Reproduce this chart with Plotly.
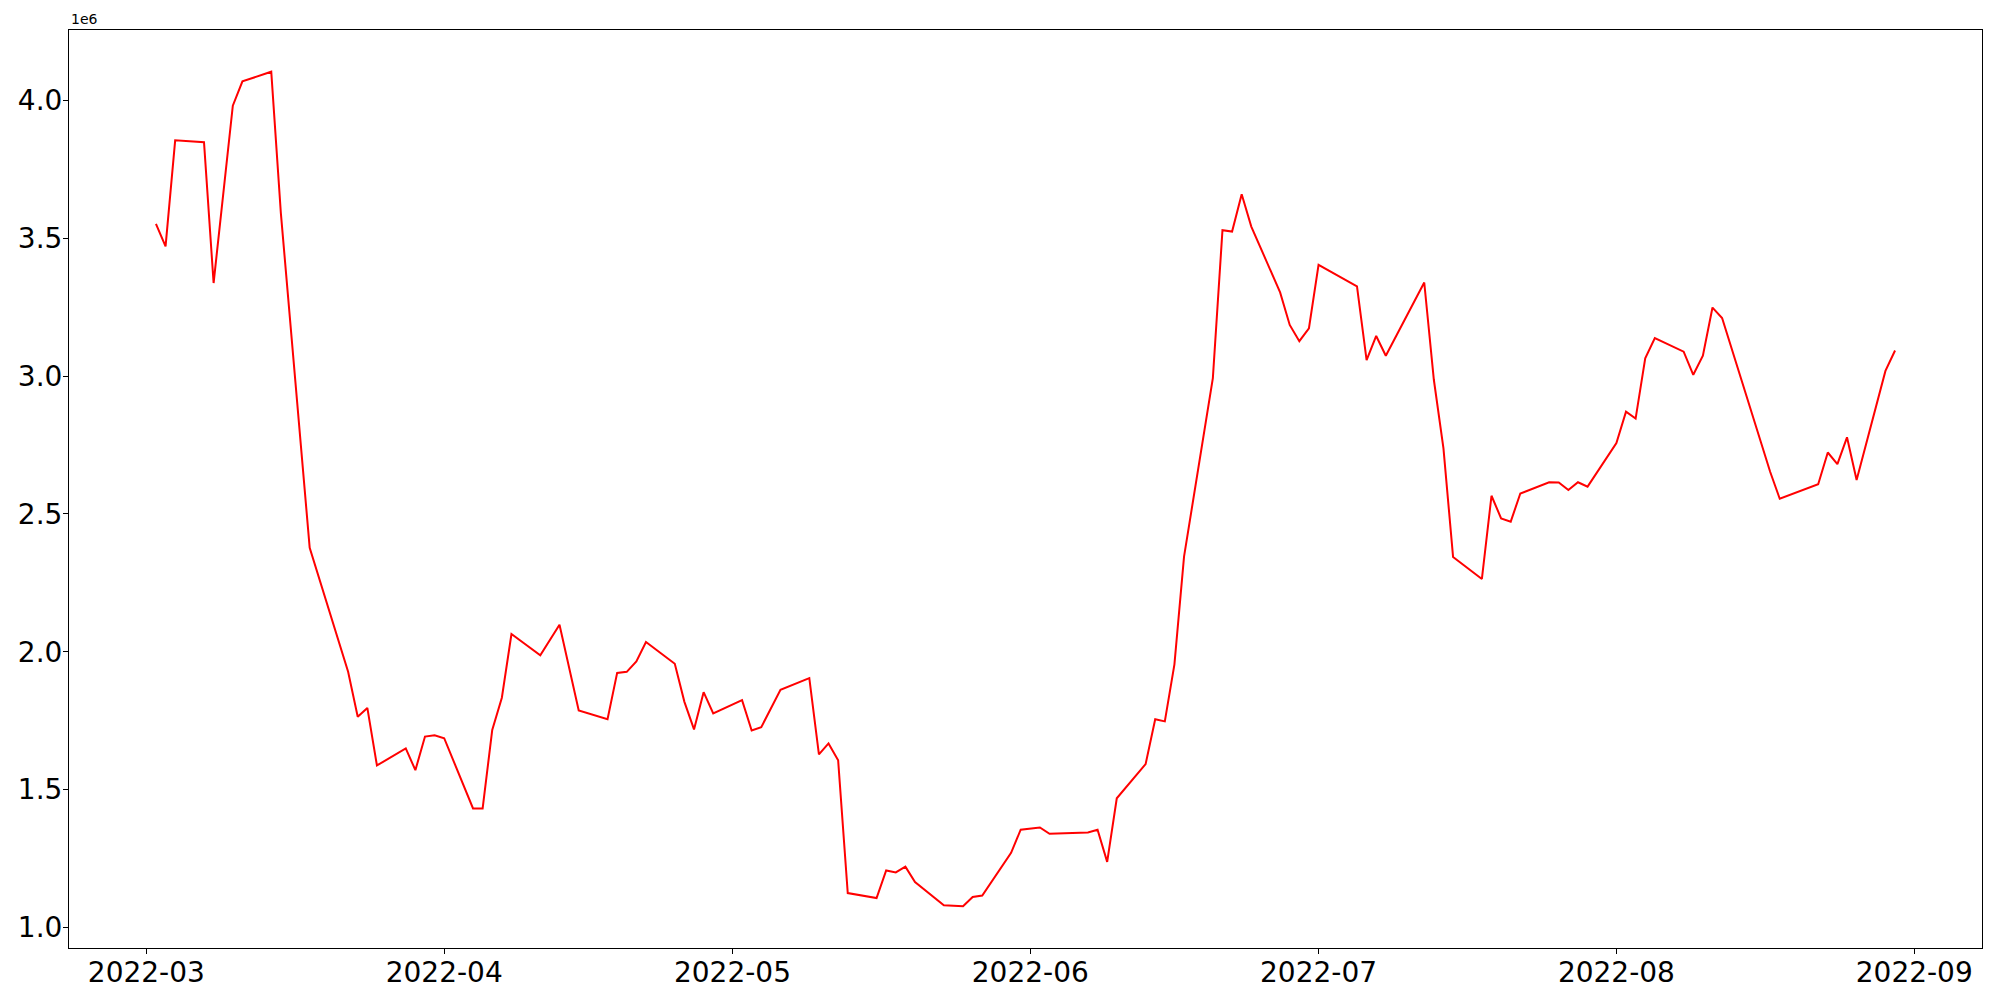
import pandas as pd
import plotly.graph_objects as go

dates = [
    "2022-03-02", "2022-03-03", "2022-03-04", "2022-03-07", "2022-03-08", "2022-03-10",
    "2022-03-11", "2022-03-14", "2022-03-15", "2022-03-18", "2022-03-22", "2022-03-23",
    "2022-03-24", "2022-03-25", "2022-03-28", "2022-03-29", "2022-03-30", "2022-03-31",
    "2022-04-01", "2022-04-04", "2022-04-05", "2022-04-06", "2022-04-07", "2022-04-08",
    "2022-04-11", "2022-04-13", "2022-04-15", "2022-04-18", "2022-04-19", "2022-04-20",
    "2022-04-21", "2022-04-22", "2022-04-25", "2022-04-26", "2022-04-27", "2022-04-28",
    "2022-04-29", "2022-05-02", "2022-05-03", "2022-05-04", "2022-05-06", "2022-05-09",
    "2022-05-10", "2022-05-11", "2022-05-12", "2022-05-13", "2022-05-16", "2022-05-17",
    "2022-05-18", "2022-05-19", "2022-05-20", "2022-05-23", "2022-05-25", "2022-05-26",
    "2022-05-27", "2022-05-30", "2022-05-31", "2022-06-02", "2022-06-03", "2022-06-07",
    "2022-06-08", "2022-06-09", "2022-06-10", "2022-06-13", "2022-06-14", "2022-06-15",
    "2022-06-16", "2022-06-17", "2022-06-20", "2022-06-21", "2022-06-22", "2022-06-23",
    "2022-06-24", "2022-06-27", "2022-06-28", "2022-06-29", "2022-06-30", "2022-07-01",
    "2022-07-05", "2022-07-06", "2022-07-07", "2022-07-08", "2022-07-12", "2022-07-13",
    "2022-07-14", "2022-07-15", "2022-07-18", "2022-07-19", "2022-07-20", "2022-07-21",
    "2022-07-22", "2022-07-25", "2022-07-26", "2022-07-27", "2022-07-28", "2022-07-29",
    "2022-08-01", "2022-08-02", "2022-08-03", "2022-08-04", "2022-08-05", "2022-08-08",
    "2022-08-09", "2022-08-10", "2022-08-11", "2022-08-12", "2022-08-17", "2022-08-18",
    "2022-08-22", "2022-08-23", "2022-08-24", "2022-08-25", "2022-08-26", "2022-08-29",
    "2022-08-30",
]

# values in millions (axis offset 1e6)
values_m = [
    3.553, 3.471, 3.856, 3.849, 3.338, 3.982,
    4.070, 4.105, 3.592, 2.377, 1.927, 1.764,
    1.796, 1.587, 1.649, 1.570, 1.692, 1.697,
    1.686, 1.431, 1.431, 1.716, 1.833, 2.064,
    1.987, 2.098, 1.787, 1.755, 1.923, 1.927,
    1.965, 2.035, 1.956, 1.818, 1.718, 1.853,
    1.776, 1.824, 1.714, 1.726, 1.862, 1.904,
    1.627, 1.667, 1.606, 1.124, 1.106, 1.206,
    1.199, 1.220, 1.164, 1.080, 1.076, 1.110,
    1.115, 1.270, 1.354, 1.362, 1.339, 1.344,
    1.354, 1.237, 1.468, 1.592, 1.755, 1.747,
    1.954, 2.345, 2.993, 3.530, 3.525, 3.660,
    3.543, 3.304, 3.186, 3.127, 3.174, 3.404,
    3.326, 3.058, 3.146, 3.074, 3.340, 2.987,
    2.738, 2.344, 2.264, 2.566, 2.484, 2.472,
    2.574, 2.615, 2.614, 2.587, 2.615, 2.599,
    2.757, 2.871, 2.846, 3.065, 3.138, 3.089,
    3.005, 3.074, 3.249, 3.211, 2.653, 2.555,
    2.608, 2.723, 2.681, 2.778, 2.623, 3.019,
    3.093,
]

x_ticks = ["2022-03-01", "2022-04-01", "2022-05-01", "2022-06-01",
           "2022-07-01", "2022-08-01", "2022-09-01"]
x_ticktext = ["2022-03", "2022-04", "2022-05", "2022-06", "2022-07", "2022-08", "2022-09"]
y_ticks_m = [1.0, 1.5, 2.0, 2.5, 3.0, 3.5, 4.0]
y_ticktext = ["1.0", "1.5", "2.0", "2.5", "3.0", "3.5", "4.0"]

scale = 1e6
x = pd.to_datetime(dates)
y = [v * scale for v in values_m]

# matplotlib-like 5% margins
xmin, xmax = x.min(), x.max()
xs = xmax - xmin
xr = [xmin - 0.05 * xs, xmax + 0.05 * xs]
ymin, ymax = min(y), max(y)
ys = ymax - ymin
yr = [ymin - 0.05 * ys, ymax + 0.05 * ys]

fig = go.Figure()
fig.add_trace(go.Scatter(x=x, y=y, mode="lines",
                         line=dict(color="red", width=2), showlegend=False))

font = dict(family="DejaVu Sans", size=28, color="black")
fig.update_layout(
    width=2000, height=1000,
    margin=dict(l=61, r=26, t=22, b=60, autoexpand=False),
    paper_bgcolor="white", plot_bgcolor="white",
    font=font,
    xaxis=dict(range=xr, tickvals=pd.to_datetime(x_ticks), ticktext=x_ticktext,
               showgrid=False, zeroline=False, showline=True, mirror=True,
               linecolor="black", linewidth=1, ticks="outside", ticklen=5,
               tickwidth=1, tickcolor="black", tickfont=font, automargin=False,
               ticklabelstandoff=-6),
    yaxis=dict(range=yr, tickvals=[v * scale for v in y_ticks_m], ticktext=y_ticktext,
               showgrid=False, zeroline=False, showline=True, mirror=True,
               linecolor="black", linewidth=1, ticks="outside", ticklen=5,
               tickwidth=1, tickcolor="black", tickfont=font, automargin=False,
               ticklabelstandoff=-5),
)
fig.add_annotation(text="1e6", xref="paper", yref="paper", x=0, y=1,
                   xanchor="left", yanchor="bottom", showarrow=False,
                   font=dict(family="DejaVu Sans", size=14, color="black"),
                   yshift=1)

fig.write_html("out.html")
